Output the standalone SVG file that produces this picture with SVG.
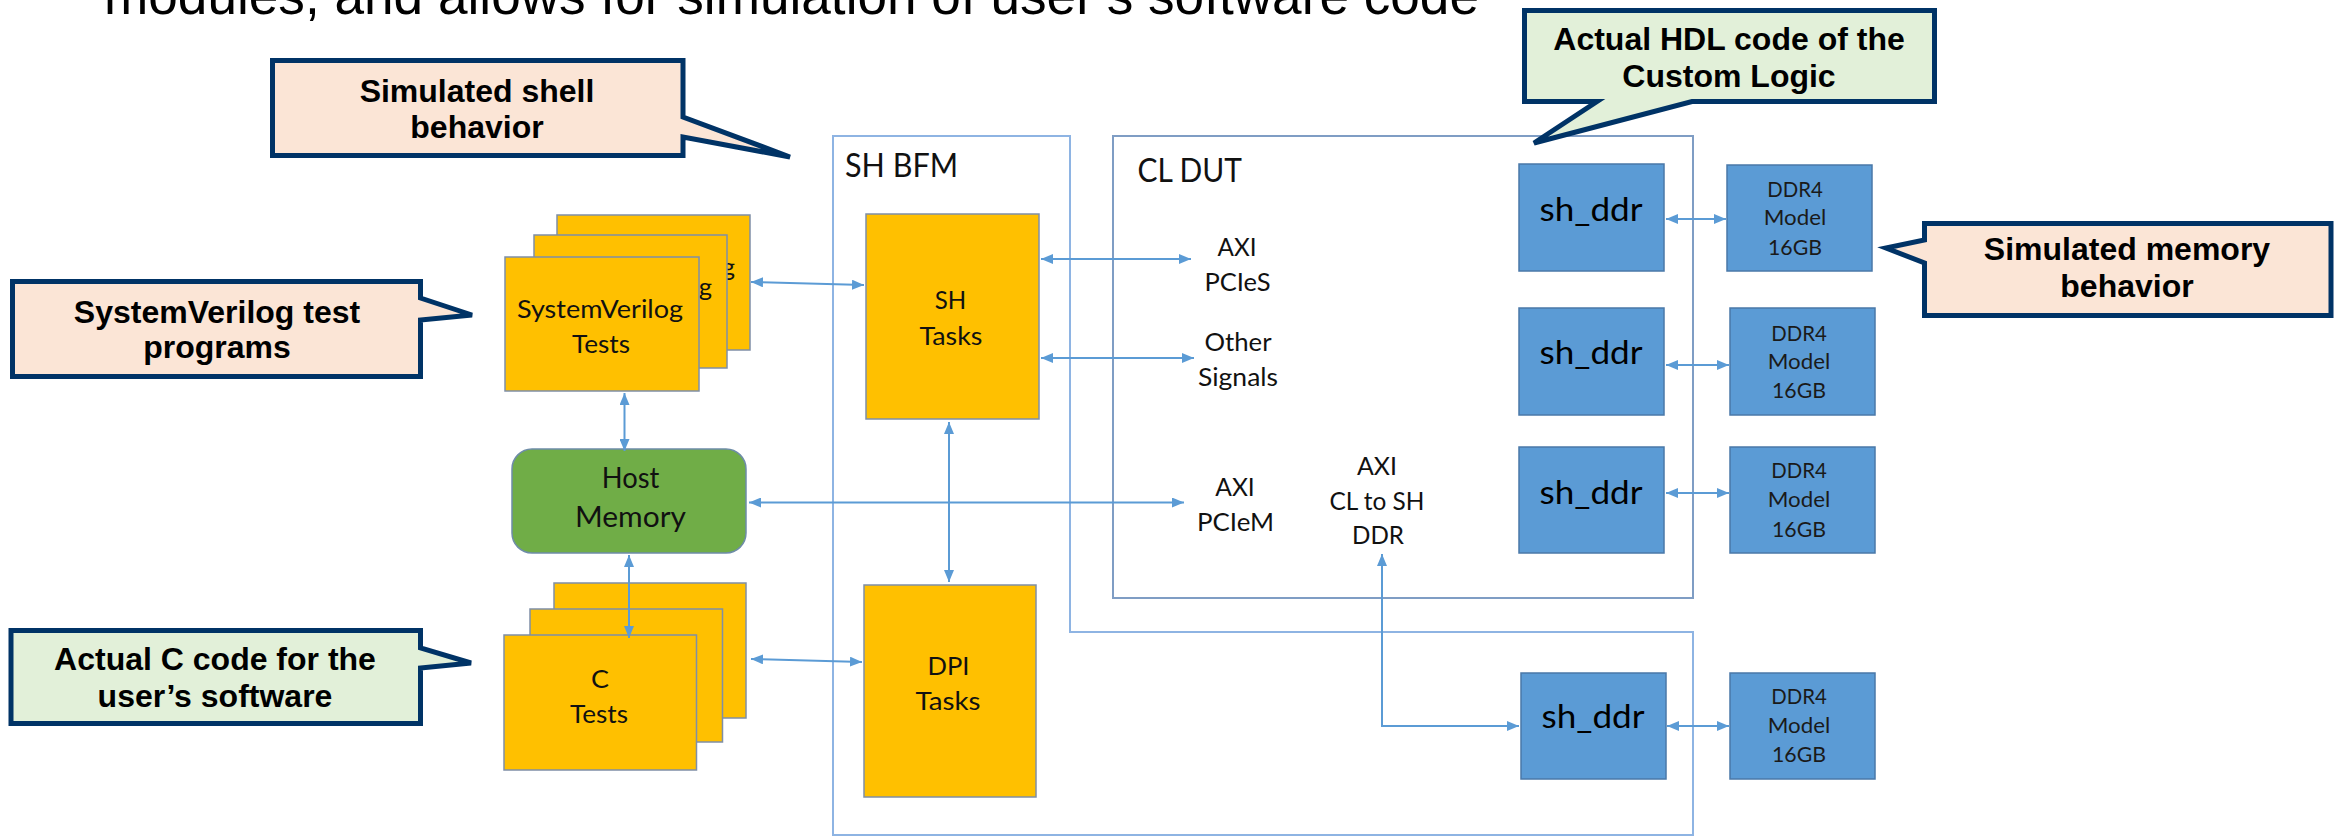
<svg xmlns="http://www.w3.org/2000/svg" width="2336" height="836" viewBox="0 0 2336 836">
<style>
.title{font-family:"Liberation Sans",Arial,sans-serif;font-size:53px;fill:#000}
.call{font-family:"Liberation Sans",Arial,sans-serif;font-weight:bold;font-size:32px;text-anchor:middle;fill:#000}
.lbl{font-family:Lato,"Open Sans",sans-serif;font-size:25.5px;text-anchor:middle;fill:#111}
.big{font-family:Lato,"Open Sans",sans-serif;font-size:32px;fill:#111}
.ddr{font-family:Lato,"Open Sans",sans-serif;font-size:33px;text-anchor:middle;fill:#000}
.mdl{font-family:Lato,"Open Sans",sans-serif;font-size:21.5px;text-anchor:middle;fill:#1a1a1a}
.pink{fill:#FBE5D6;stroke:#003366;stroke-width:5;stroke-linejoin:miter}
.mint{fill:#E2F0D9;stroke:#003366;stroke-width:5;stroke-linejoin:miter}
.org{fill:#FFC000;stroke:#7F8FA6;stroke-width:1.5}
.blu{fill:#5B9BD5;stroke:#4A78A8;stroke-width:1.5}
.grn{fill:#70AD47;stroke:#6E8CA8;stroke-width:1.5}
.frame{fill:none;stroke-width:2}
.con{fill:none;stroke:#5B9BD5;stroke-width:2;marker-start:url(#ah);marker-end:url(#ah)}
</style>
<defs>
<marker id="ah" viewBox="0 0 12 10" refX="12" refY="5" markerWidth="12" markerHeight="10" markerUnits="userSpaceOnUse" orient="auto-start-reverse">
<path d="M0,0 L12,5 L0,10 Z" fill="#5B9BD5"/>
</marker>
</defs>

<text class="title" x="104" y="14" textLength="1375" lengthAdjust="spacingAndGlyphs">modules, and allows for simulation of user’s software code</text>

<g id="sh_bfm">
<path class="frame" stroke="#8EB4E3" d="M833,136 H1070 V632 H1693 V835 H833 Z"/>
<text class="big" x="845" y="177" textLength="113" lengthAdjust="spacingAndGlyphs">SH BFM</text>
</g>
<g id="cl_dut">
<rect class="frame" stroke="#7F9DC4" x="1113" y="136" width="580" height="462"/>
<text class="big" x="1137.5" y="182" textLength="104.5" lengthAdjust="spacingAndGlyphs">CL DUT</text>
</g>

<g id="callout_shell">
<path class="pink" d="M272.5,60.5 H683 V117 L790,157 L683,137 V155.5 H272.5 Z"/>
<text class="call" x="477" y="102">Simulated shell</text>
<text class="call" x="477" y="138">behavior</text>
</g>
<g id="callout_sv">
<path class="pink" d="M12.5,281.5 H420.5 V298 L472,315 L420.5,320 V376.5 H12.5 Z"/>
<text class="call" x="217" y="323">SystemVerilog test</text>
<text class="call" x="217" y="358">programs</text>
</g>
<g id="callout_c">
<path class="mint" d="M11,630.5 H420.5 V648 L471,663 L420.5,668 V723.5 H11 Z"/>
<text class="call" x="215" y="670">Actual C code for the</text>
<text class="call" x="215" y="707">user’s software</text>
</g>
<g id="callout_hdl">
<path class="mint" d="M1524.5,10.5 H1934.5 V101.5 H1692 L1534,143 L1597,101.5 H1524.5 Z"/>
<text class="call" x="1729" y="50">Actual HDL code of the</text>
<text class="call" x="1729" y="87">Custom Logic</text>
</g>
<g id="callout_mem">
<path class="pink" d="M1924.5,223.5 H2331 V315.5 H1924.5 V263 L1886,248 L1924.5,240 Z"/>
<text class="call" x="2127" y="260">Simulated memory</text>
<text class="call" x="2127" y="297">behavior</text>
</g>

<g id="sv_tests">
<rect class="org" x="557" y="215" width="193" height="135"/>
<text class="lbl" style="text-anchor:end" x="735" y="276">g</text>
<rect class="org" x="534" y="235" width="193" height="133"/>
<text class="lbl" style="text-anchor:end" x="712" y="296">g</text>
<rect class="org" x="505" y="257" width="194" height="134"/>
<text class="lbl" x="600" y="318" textLength="166" lengthAdjust="spacingAndGlyphs">SystemVerilog</text>
<text class="lbl" x="601" y="353" textLength="58" lengthAdjust="spacingAndGlyphs">Tests</text>
</g>

<g id="host_memory">
<rect class="grn" x="512" y="449" width="234" height="104" rx="20"/>
<text class="lbl" x="630.5" y="488" style="font-size:28.5px" textLength="57.5" lengthAdjust="spacingAndGlyphs">Host</text>
<text class="lbl" x="630.5" y="527" style="font-size:28.5px" textLength="111" lengthAdjust="spacingAndGlyphs">Memory</text>
</g>

<g id="c_tests">
<rect class="org" x="554" y="583" width="192" height="135"/>
<rect class="org" x="530" y="609" width="192.5" height="133"/>
<rect class="org" x="504" y="635" width="192.5" height="135"/>
<text class="lbl" x="600" y="688" textLength="18" lengthAdjust="spacingAndGlyphs">C</text>
<text class="lbl" x="599" y="723" textLength="58" lengthAdjust="spacingAndGlyphs">Tests</text>
</g>

<g id="sh_tasks">
<rect class="org" x="866" y="214" width="173" height="205"/>
<text class="lbl" x="950.5" y="309" textLength="31.5" lengthAdjust="spacingAndGlyphs">SH</text>
<text class="lbl" x="951" y="345" textLength="63" lengthAdjust="spacingAndGlyphs">Tasks</text>
</g>
<g id="dpi_tasks">
<rect class="org" x="864" y="585" width="172" height="212"/>
<text class="lbl" x="948.5" y="675" textLength="42" lengthAdjust="spacingAndGlyphs">DPI</text>
<text class="lbl" x="948" y="710" textLength="65" lengthAdjust="spacingAndGlyphs">Tasks</text>
</g>

<g id="lbl_pcies">
<text class="lbl" x="1237" y="256" textLength="39" lengthAdjust="spacingAndGlyphs">AXI</text>
<text class="lbl" x="1237.5" y="291" textLength="66" lengthAdjust="spacingAndGlyphs">PCIeS</text>
</g>
<g id="lbl_other">
<text class="lbl" x="1238" y="351" textLength="67" lengthAdjust="spacingAndGlyphs">Other</text>
<text class="lbl" x="1238" y="386" textLength="80" lengthAdjust="spacingAndGlyphs">Signals</text>
</g>
<g id="lbl_pciem">
<text class="lbl" x="1235" y="496" textLength="39.5" lengthAdjust="spacingAndGlyphs">AXI</text>
<text class="lbl" x="1235.5" y="531" textLength="77" lengthAdjust="spacingAndGlyphs">PCIeM</text>
</g>
<g id="lbl_clsh">
<text class="lbl" x="1377" y="475" textLength="40" lengthAdjust="spacingAndGlyphs">AXI</text>
<text class="lbl" x="1377" y="510" textLength="95" lengthAdjust="spacingAndGlyphs">CL to SH</text>
<text class="lbl" x="1378" y="544" textLength="52" lengthAdjust="spacingAndGlyphs">DDR</text>
</g>

<g id="sh_ddr_1">
<rect class="blu" x="1519" y="164" width="145" height="107"/>
<text class="ddr" x="1591" y="221" textLength="103" lengthAdjust="spacingAndGlyphs">sh_ddr</text>
</g>
<g id="sh_ddr_2">
<rect class="blu" x="1519" y="308" width="145" height="107"/>
<text class="ddr" x="1591" y="364" textLength="103" lengthAdjust="spacingAndGlyphs">sh_ddr</text>
</g>
<g id="sh_ddr_3">
<rect class="blu" x="1519" y="447" width="145" height="106"/>
<text class="ddr" x="1591" y="503.5" textLength="103" lengthAdjust="spacingAndGlyphs">sh_ddr</text>
</g>
<g id="sh_ddr_4">
<rect class="blu" x="1521" y="673" width="145" height="106"/>
<text class="ddr" x="1593" y="728" textLength="103" lengthAdjust="spacingAndGlyphs">sh_ddr</text>
</g>

<g id="ddr4_1">
<rect class="blu" x="1727" y="165" width="145" height="106"/>
<text class="mdl" x="1795" y="197" textLength="55.5" lengthAdjust="spacingAndGlyphs">DDR4</text>
<text class="mdl" x="1795" y="225" textLength="62.5" lengthAdjust="spacingAndGlyphs">Model</text>
<text class="mdl" x="1795" y="255" textLength="54" lengthAdjust="spacingAndGlyphs">16GB</text>
</g>
<g id="ddr4_2">
<rect class="blu" x="1730" y="308" width="145" height="107"/>
<text class="mdl" x="1799" y="341" textLength="55.5" lengthAdjust="spacingAndGlyphs">DDR4</text>
<text class="mdl" x="1799" y="369" textLength="62.5" lengthAdjust="spacingAndGlyphs">Model</text>
<text class="mdl" x="1799" y="398" textLength="54" lengthAdjust="spacingAndGlyphs">16GB</text>
</g>
<g id="ddr4_3">
<rect class="blu" x="1730" y="447" width="145" height="106"/>
<text class="mdl" x="1799" y="478" textLength="55.5" lengthAdjust="spacingAndGlyphs">DDR4</text>
<text class="mdl" x="1799" y="507" textLength="62.5" lengthAdjust="spacingAndGlyphs">Model</text>
<text class="mdl" x="1799" y="537" textLength="54" lengthAdjust="spacingAndGlyphs">16GB</text>
</g>
<g id="ddr4_4">
<rect class="blu" x="1730" y="673" width="145" height="106"/>
<text class="mdl" x="1799" y="704" textLength="55.5" lengthAdjust="spacingAndGlyphs">DDR4</text>
<text class="mdl" x="1799" y="733" textLength="62.5" lengthAdjust="spacingAndGlyphs">Model</text>
<text class="mdl" x="1799" y="762" textLength="54" lengthAdjust="spacingAndGlyphs">16GB</text>
</g>

<g id="connectors">
<path class="con" d="M751,282 L864,285"/>
<path class="con" d="M624.5,393 V451"/>
<path class="con" d="M629,555 V638"/>
<path class="con" d="M751,659 L862,662"/>
<path class="con" d="M949,422 V582"/>
<path class="con" d="M1041,259 H1191"/>
<path class="con" d="M1041,358 H1194"/>
<path class="con" d="M749,502.5 H1184"/>
<path class="con" d="M1382,554 V726 H1519"/>
<path class="con" d="M1666,219 H1726"/>
<path class="con" d="M1666,365 H1729"/>
<path class="con" d="M1666,493 H1729"/>
<path class="con" d="M1667,726 H1729"/>
</g>
</svg>
